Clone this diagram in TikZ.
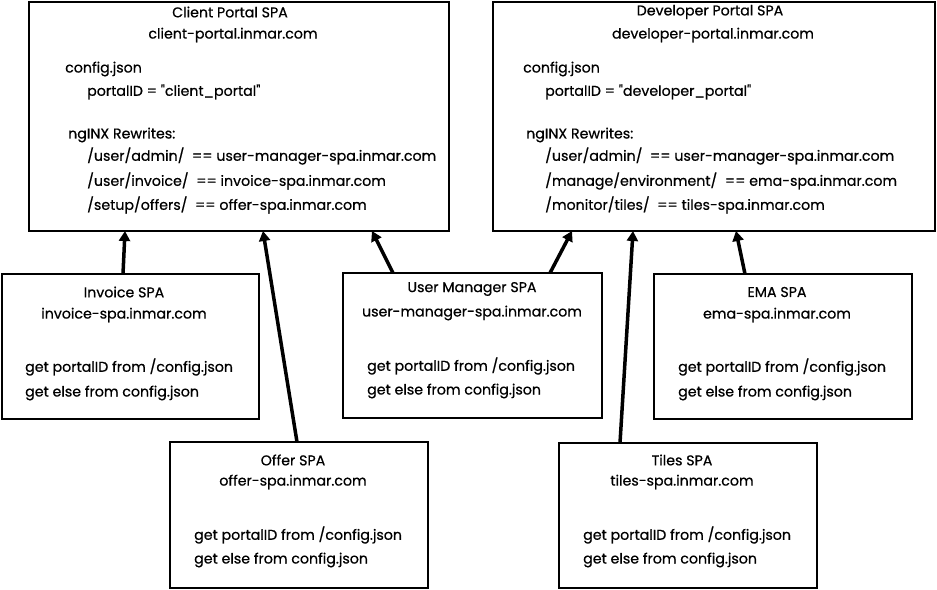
\documentclass[tikz,border=0pt]{standalone}
\usepackage{fontspec}
\setmainfont{Poppins}[Ligatures=TeXOff,FakeBold=0.6]
\usetikzlibrary{arrows.meta,calc}
\begin{document}
\begin{tikzpicture}[x=1pt,y=-1pt,
  box/.style={draw=black,line width=2.2pt,inner sep=0pt,outer sep=0pt},
  t/.style={font=\fontsize{14.2}{16}\selectfont,inner sep=0pt,anchor=west},
  tc/.style={font=\fontsize{14.2}{16}\selectfont,inner sep=0pt,anchor=center},
  arr/.style={line width=3.5pt,-{Triangle[length=10pt,width=11pt]}}]
\useasboundingbox (0,0) rectangle (937,589);
% boxes
\node[box,minimum width=420pt,minimum height=229pt] (cp) at (239,116.5) {};
\node[box,minimum width=442pt,minimum height=229pt] (dp) at (714,116.5) {};
\node[box,minimum width=257pt,minimum height=145pt] (inv) at (130.5,346.5) {};
\node[box,minimum width=259pt,minimum height=145pt] (um) at (472.5,345.5) {};
\node[box,minimum width=258pt,minimum height=145pt] (ema) at (783,346.5) {};
\node[box,minimum width=258pt,minimum height=146pt] (off) at (299,515) {};
\node[box,minimum width=258pt,minimum height=145pt] (tiles) at (688,515.5) {};
% client portal text
\node[tc] (cp1) at (230,12) {Client Portal SPA};
\node[tc] (cp2) at (233,35) {client-portal.inmar.com};
\node[t] (cp3) at (65,69) {config.json};
\node[t] (cp4) at (87,92) {portalID = "client\_portal"};
\node[t] (cp5) at (68,135) {ngINX Rewrites:};
\node[t] (cp6) at (87,156) {/user/admin/\ \ == user-manager-spa.inmar.com};
\node[t] (cp7) at (87,181) {/user/invoice/\ \ == invoice-spa.inmar.com};
\node[t] (cp8) at (87,205) {/setup/offers/\ \ == offer-spa.inmar.com};
% developer portal text
\node[tc] (dp1) at (710,12) {Developer Portal SPA};
\node[tc] (dp2) at (713,35) {developer-portal.inmar.com};
\node[t] (dp3) at (523,69) {config.json};
\node[t] (dp4) at (545,92) {portalID = "developer\_portal"};
\node[t] (dp5) at (526,135) {ngINX Rewrites:};
\node[t] (dp6) at (545,156) {/user/admin/\ \ == user-manager-spa.inmar.com};
\node[t] (dp7) at (545,181) {/manage/environment/\ \ == ema-spa.inmar.com};
\node[t] (dp8) at (545,205) {/monitor/tiles/\ \ == tiles-spa.inmar.com};
% invoice
\node[tc] (inv1) at (124,292) {Invoice SPA};
\node[tc] (inv2) at (124,315) {invoice-spa.inmar.com};
\node[t] (inv3) at (25,367) {get portalID from /config.json};
\node[t] (inv4) at (25,393) {get else from config.json};
% user manager
\node[tc] (um1) at (472,289) {User Manager SPA};
\node[tc] (um2) at (472,313) {user-manager-spa.inmar.com};
\node[t] (um3) at (367,366) {get portalID from /config.json};
\node[t] (um4) at (367,391) {get else from config.json};
% ema
\node[tc] (ema1) at (777,292) {EMA SPA};
\node[tc] (ema2) at (777,315) {ema-spa.inmar.com};
\node[t] (ema3) at (678,367) {get portalID from /config.json};
\node[t] (ema4) at (678,393) {get else from config.json};
% offer
\node[tc] (off1) at (293,460) {Offer SPA};
\node[tc] (off2) at (293,482) {offer-spa.inmar.com};
\node[t] (off3) at (194,535) {get portalID from /config.json};
\node[t] (off4) at (194,560) {get else from config.json};
% tiles
\node[tc] (tl1) at (682,460) {Tiles SPA};
\node[tc] (tl2) at (682,482) {tiles-spa.inmar.com};
\node[t] (tl3) at (583,535) {get portalID from /config.json};
\node[t] (tl4) at (583,560) {get else from config.json};
% arrows
\draw[arr] ([xshift=121pt]inv.north west) -- ([xshift=96pt]cp.south west);
\draw[arr] ([xshift=127pt]off.north west) -- ([xshift=234pt]cp.south west);
\draw[arr] ([xshift=50pt]um.north west) -- ([xshift=343pt]cp.south west);
\draw[arr] ([xshift=207pt]um.north west) -- ([xshift=79pt]dp.south west);
\draw[arr] ([xshift=61pt]tiles.north west) -- ([xshift=140pt]dp.south west);
\draw[arr] ([xshift=91pt]ema.north west) -- ([xshift=243pt]dp.south west);
\end{tikzpicture}
\end{document}
